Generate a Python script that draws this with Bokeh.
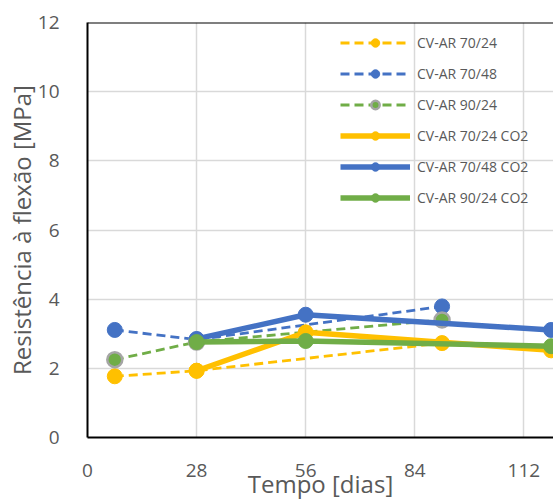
from bokeh.plotting import figure
from bokeh.models import Legend, LegendItem, Span, FixedTicker, Range1d
from bokeh.embed import file_html
from bokeh.resources import INLINE

# ---- data ----
days_cv = [7, 28, 91]
cv_70_24 = [1.77, 1.93, 2.73]
cv_70_48 = [3.11, 2.83, 3.79]
cv_90_24 = [2.25, 2.76, 3.40]

days_co2 = [28, 56, 119]
co2_70_24 = [1.93, 3.04, 2.52]
co2_70_48 = [2.85, 3.55, 3.11]
co2_90_24 = [2.76, 2.79, 2.64]

x_ticks = [0, 28, 56, 84, 112]
y_ticks = [0, 2, 4, 6, 8, 10, 12]

labels = ["CV-AR 70/24", "CV-AR 70/48", "CV-AR 90/24",
          "CV-AR 70/24 CO2", "CV-AR 70/48 CO2", "CV-AR 90/24 CO2"]

YELLOW = "#FFC000"
BLUE = "#4472C4"
GREEN = "#70AD47"
GRAY = "#A5A5A5"
TXT = "#595959"
FONT = "Open Sans"

p = figure(width=553, height=502, x_range=Range1d(0, 119.6), y_range=Range1d(0, 12),
           output_backend="svg", toolbar_location=None,
           min_border_left=87, min_border_right=0, min_border_top=22, min_border_bottom=65)
p.outline_line_color = None
p.background_fill_color = "white"

# grid
p.xgrid.ticker = FixedTicker(ticks=x_ticks)
p.ygrid.ticker = FixedTicker(ticks=y_ticks)
p.grid.grid_line_color = "#D9D9D9"
p.grid.grid_line_width = 1.5

# axes
for ax in (p.xaxis[0], p.yaxis[0]):
    ax.axis_line_color = "black"
    ax.axis_line_width = 2
    ax.major_tick_line_color = None
    ax.minor_tick_line_color = None
    ax.major_label_text_font = FONT
    ax.major_label_text_font_size = "19px"
    ax.major_label_text_color = TXT
    ax.axis_label_text_font = FONT
    ax.axis_label_text_font_size = "24px"
    ax.axis_label_text_font_style = "normal"
    ax.axis_label_text_color = TXT

p.xaxis.ticker = FixedTicker(ticks=x_ticks)
p.yaxis.ticker = FixedTicker(ticks=y_ticks)
p.xaxis.axis_label = "Tempo [dias]"
p.yaxis.axis_label = "Resistência à flexão [MPa]"
p.xaxis.major_label_standoff = 20
p.xaxis.axis_label_standoff = -13
p.yaxis.major_label_standoff = 22
p.yaxis.axis_label_standoff = -3

# top border
p.add_layout(Span(location=12, dimension="width", line_color="black", line_width=2))

items = []

def series(x, y, color, dashed, label, mfill, mline, mlw):
    if dashed:
        ln = p.line(x, y, line_color=color, line_width=2.8, line_dash="9 5")
    else:
        ln = p.line(x, y, line_color=color, line_width=5.5)
    sc = p.scatter(x, y, marker="circle", size=15, fill_color=mfill,
                   line_color=mline, line_width=mlw)
    items.append(LegendItem(label=label, renderers=[ln, sc]))

series(days_cv, cv_70_24, YELLOW, True, labels[0], YELLOW, YELLOW, 1)
series(days_cv, cv_70_48, BLUE, True, labels[1], BLUE, BLUE, 1)
series(days_cv, cv_90_24, GREEN, True, labels[2], GREEN, GRAY, 2.5)
series(days_co2, co2_70_24, YELLOW, False, labels[3], YELLOW, YELLOW, 1)
series(days_co2, co2_70_48, BLUE, False, labels[4], BLUE, BLUE, 1)
series(days_co2, co2_90_24, GREEN, False, labels[5], GREEN, GREEN, 1)

legend = Legend(items=items, location=(253, 229))
legend.glyph_width = 70
legend.glyph_height = 21
legend.label_height = 21
legend.spacing = 10
legend.padding = 0
legend.margin = 0
legend.label_standoff = 7
legend.label_text_font = FONT
legend.label_text_font_size = "14px"
legend.label_text_color = TXT
legend.background_fill_alpha = 0
legend.border_line_color = None
p.add_layout(legend, "center")

open("out.html", "w").write(file_html(p, INLINE))
